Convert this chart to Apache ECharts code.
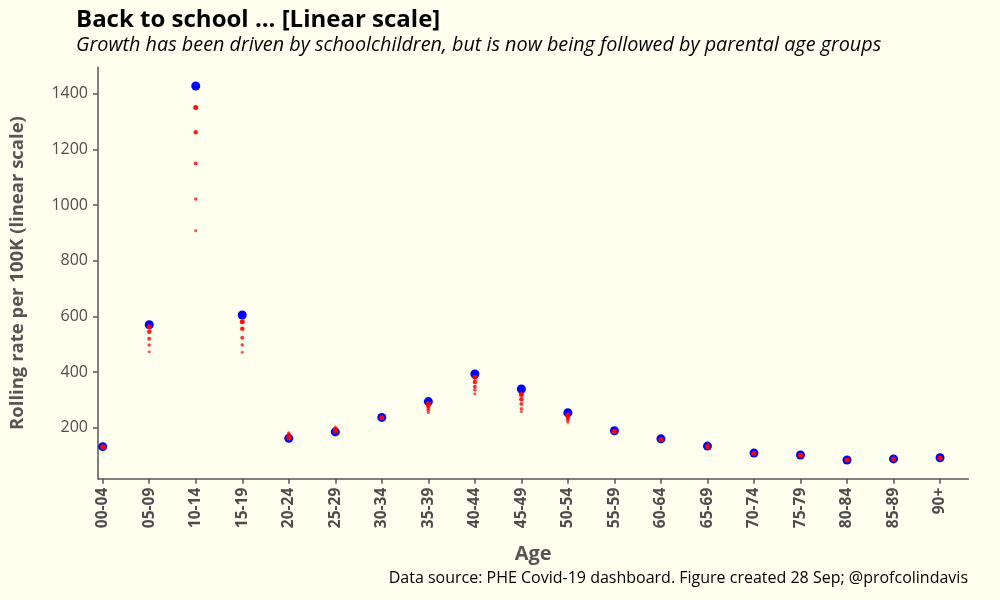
<!DOCTYPE html>
<html><head><meta charset="utf-8">
<script src="https://cdn.jsdelivr.net/npm/echarts@6/dist/echarts.min.js"></script>
<style>html,body{margin:0;padding:0;background:#FFFFF0}#c{width:1000px;height:600px}</style>
</head><body><div id="c"></div>
<script>
const categories = ['00-04','05-09','10-14','15-19','20-24','25-29','30-34','35-39','40-44','45-49','50-54','55-59','60-64','65-69','70-74','75-79','80-84','85-89','90+'];
// latest rolling rate (blue)
const latest = [132,570,1428,605,162,185,237,294,393,339,254,189,160,134,109,102,84,88,92];
// previous days (red), oldest first
const day1 = [130,473,908,471,182,202,234,255,322,258,220,183,156,131,106,100,82,86,89];
const day2 = [131,497,1022,497,177,198,235,263,336,268,227,184,157,132,107,100,83,87,90];
const day3 = [131,520,1149,523,172,194,236,271,347,285,234,185,157,132,107,101,83,87,90];
const day4 = [132,545,1262,556,167,190,236,279,364,302,240,186,158,133,108,101,84,88,91];
const day5 = [132,563,1351,581,164,187,237,286,381,319,246,187,158,133,108,101,84,88,91];
const yTicks = [200,400,600,800,1000,1200,1400];

const FONT = '"Open Sans"';
const YMIN = 16.9, YMAX = 1495;
const chart = echarts.init(document.getElementById('c'), null, {renderer:'canvas'});
const redDays = [day1, day2, day3, day4, day5];
const redSizes = [3.2, 3.6, 4, 4.5, 5];
const redOpacity = [0.65, 0.72, 0.8, 0.88, 0.95];
const series = [{
  type:'scatter', xAxisIndex:1, yAxisIndex:1, data: latest, symbolSize: 9,
  itemStyle:{color:'#0000FF', opacity:1}, z:2, silent:true
}];
redDays.forEach((d,i)=>series.push({
  type:'scatter', xAxisIndex:1, yAxisIndex:1, data:d, symbolSize: redSizes[i],
  itemStyle:{color:'#FF0000', opacity: redOpacity[i]}, z:3+i, silent:true
}));
chart.setOption({
  backgroundColor:'#FFFFF0',
  animation:false,
  textStyle:{fontFamily:FONT},
  grid:[
    {left:74.7, right:31.7, top:67.3, bottom:121.3},
    {left:79.44, right:36.7, top:67.3, bottom:121.3}
  ],
  xAxis:[
    {type:'value', gridIndex:0, min:0, max:1, axisLine:{show:true, lineStyle:{color:'#555', width:1.5}},
     axisTick:{show:false}, axisLabel:{show:false}, splitLine:{show:false},
     name:'Age', nameLocation:'middle', nameGap:66,
     nameTextStyle:{fontFamily:FONT, fontSize:20, fontWeight:'bold', color:'#555'}},
    {type:'category', gridIndex:1, data:categories, boundaryGap:true,
     axisLine:{show:false}, axisTick:{show:true, alignWithLabel:true, length:5, lineStyle:{color:'#555', width:1.5}},
     axisLabel:{rotate:90, margin:9, fontFamily:FONT, fontSize:15.5, fontWeight:'bold', color:'#4d4d4d', interval:0},
     splitLine:{show:false}}
  ],
  yAxis:[
    {type:'value', gridIndex:0, min:YMIN, max:YMAX,
     axisLine:{show:true, lineStyle:{color:'#555', width:1.5}},
     axisTick:{show:true, length:5, customValues:yTicks, lineStyle:{color:'#555', width:1.5}},
     axisLabel:{customValues:yTicks, margin:10, fontFamily:FONT, fontSize:16, color:'#4d4d4d', formatter:(v)=>String(v)},
     splitLine:{show:false},
     name:'Rolling rate per 100K (linear scale)', nameLocation:'middle', nameGap:71,
     nameTextStyle:{fontFamily:FONT, fontSize:18.5, fontWeight:'bold', color:'#555'}},
    {type:'value', gridIndex:1, min:YMIN, max:YMAX, show:false}
  ],
  graphic:[
    {type:'text', left:76, top:8, style:{text:'Back to school ... [Linear scale]', font:'bold 24px '+FONT, fill:'#000'}},
    {type:'text', left:76, top:35, style:{text:'Growth has been driven by schoolchildren, but is now being followed by parental age groups', font:'italic 19.8px '+FONT, fill:'#000'}},
    {type:'text', right:32, top:570, style:{text:'Data source: PHE Covid-19 dashboard. Figure created 28 Sep; @profcolindavis', font:'16px '+FONT, fill:'#000'}}
  ],
  series: series
});
</script></body></html>
